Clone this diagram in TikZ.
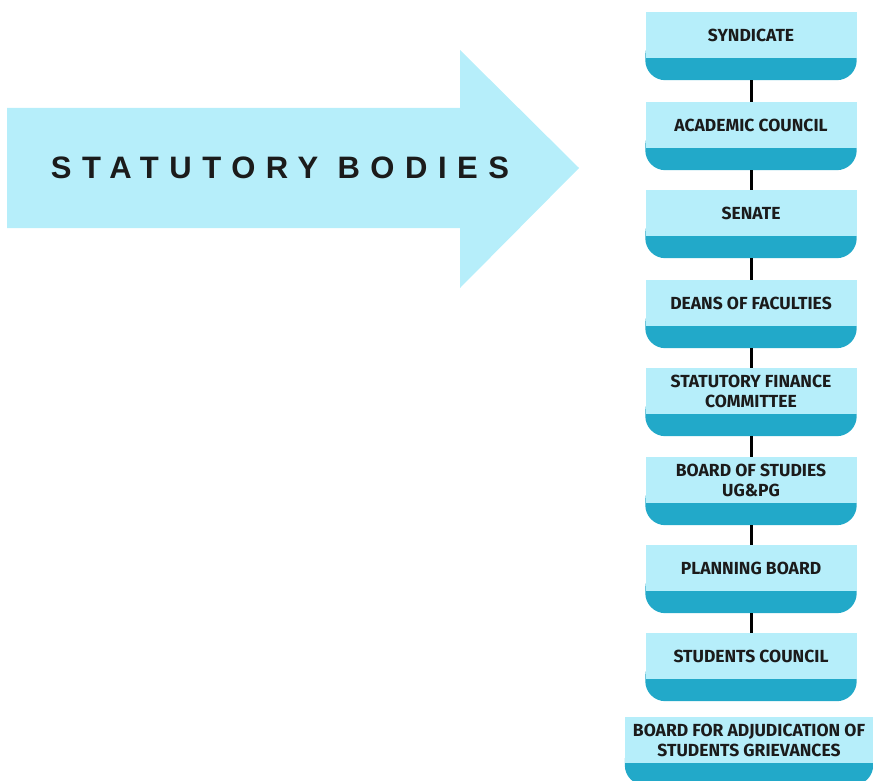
\documentclass[tikz,border=0pt]{standalone}
\usepackage{fontspec}
\setmainfont{Fira Sans}
\newfontfamily\titlefont[LetterSpace=34]{Liberation Sans}
\usetikzlibrary{backgrounds}
\definecolor{boxlight}{HTML}{B6EEFA}
\definecolor{boxdark}{HTML}{22A9C9}
\definecolor{inkdark}{HTML}{1B1B1B}
\tikzset{
	bodybox/.style={fill=boxlight, minimum width=211pt, minimum height=46pt, inner sep=0pt, align=center, text=inkdark, font=\bfseries\fontsize{17.5}{20}\selectfont},
	link/.style={line width=3pt, black},
}

\begin{document}
\begin{tikzpicture}[x=1pt,y=-1pt]
	\useasboundingbox (0,0) rectangle (873,781);
	%%%%% START %%%%%
	
	\fill[boxlight] (7,108) -- (460,108) -- (460,50) -- (579,168) -- (460,288) -- (460,228) -- (7,228) -- cycle;
	\node[text=inkdark, font=\titlefont\bfseries\fontsize{31}{31}\selectfont] (title) at (280,168) {STATUTORY BODIES};
	
	\node[bodybox] (syn) at (751,35) {SYNDICATE};
	\node[bodybox] (acc) at (751,125) {ACADEMIC COUNCIL};
	\node[bodybox] (sen) at (751,213) {SENATE};
	\node[bodybox] (dean) at (751,303) {DEANS OF FACULTIES};
	\node[bodybox] (sfc) at (751,391) {STATUTORY FINANCE\\COMMITTEE};
	\node[bodybox] (bos) at (751,480) {BOARD OF STUDIES\\UG\&PG};
	\node[bodybox] (plan) at (751,568) {PLANNING BOARD};
	\node[bodybox] (stc) at (751,656) {STUDENTS COUNCIL};
	\node[bodybox, minimum width=248pt] (bfa) at (749,740) {BOARD FOR ADJUDICATION OF\\STUDENTS GRIEVANCES};
	
	\begin{scope}[on background layer]
		\foreach \b in {syn,acc,sen,dean,sfc,bos,plan,stc,bfa}
			\fill[boxdark, rounded corners=20pt] (\b.west) rectangle ([yshift=-22pt]\b.south east);
	\end{scope}
	
	\draw[link] ([yshift=-22pt]syn.south) -- (acc.north);
	\draw[link] ([yshift=-22pt]acc.south) -- (sen.north);
	\draw[link] ([yshift=-22pt]sen.south) -- (dean.north);
	\draw[link] ([yshift=-22pt]dean.south) -- (sfc.north);
	\draw[link] ([yshift=-22pt]sfc.south) -- (bos.north);
	\draw[link] ([yshift=-22pt]bos.south) -- (plan.north);
	\draw[link] ([yshift=-22pt]plan.south) -- (stc.north);
	
	%%%%% END %%%%%
\end{tikzpicture}
\end{document}
